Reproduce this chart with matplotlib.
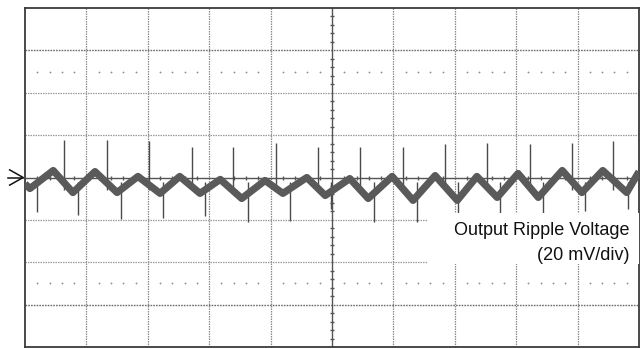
import matplotlib
matplotlib.use("Agg")
import matplotlib.pyplot as plt
from matplotlib.patches import Rectangle

# ---- data (time in divisions, voltage in mV; 20 mV/div) ----
trace_start_t = [0.0]
trace_start_v = [-3.0]
peak_t = [0.46, 1.14, 1.84, 2.52, 3.18, 3.91, 4.59, 5.29, 5.98, 6.68, 7.36, 8.03, 8.75, 9.41]
peak_v = [3.3, 2.8, 0.5, 0.5, -0.9, -1.4, 0.0, -0.5, 0.5, 0.9, 0.5, 1.9, 3.3, 3.3]
trough_t = [0.08, 0.78, 1.50, 2.20, 2.85, 3.53, 4.20, 4.89, 5.59, 6.32, 7.04, 7.69, 8.36, 9.07, 9.80]
trough_v = [-5.2, -7.1, -7.1, -7.5, -7.5, -9.9, -7.5, -8.5, -9.9, -10.8, -10.8, -9.4, -9.4, -7.1, -7.1]
trace_end_t = [10.0]
trace_end_v = [2.8]

spike_up_t = [0.635, 1.336, 2.02, 2.72, 3.39, 4.09, 4.77, 5.46, 6.16, 6.84, 7.52, 8.22, 8.91, 9.58]
spike_up_v = [17.9, 17.9, 17.0, 14.6, 14.2, 16.5, 14.6, 14.6, 14.6, 15.6, 16.5, 15.6, 16.5, 17.0]
spike_dn_t = [0.195, 0.863, 1.56, 2.25, 2.93, 3.63, 4.32, 4.99, 5.68, 6.38, 7.05, 7.74, 8.44, 9.12, 9.82]
spike_dn_v = [-16.5, -17.5, -19.8, -18.9, -18.4, -20.8, -20.3, -15.0, -20.8, -21.2, -18.4, -17.5, -18.4, -16.0, -15.1]

label_line1 = "Output Ripple Voltage"
label_line2 = "(20 mV/div)"

N_XDIV = 10
N_YDIV = 8
MV_PER_DIV = 20

# ---- figure ----
W, H = 643, 349
fig = plt.figure(figsize=(W / 100, H / 100), dpi=100)
ax = fig.add_axes([25 / W, 2 / H, 614 / W, 339 / H])
ax.set_xlim(0, N_XDIV)
ymax = N_YDIV / 2 * MV_PER_DIV
ax.set_ylim(-ymax, ymax)
ax.set_xticks([])
ax.set_yticks([])
for s in ax.spines.values():
    s.set_color("#3a3a3a")
    s.set_linewidth(1.3)

for i in range(1, N_XDIV):
    if i != N_XDIV // 2:
        ax.axvline(i, color="#8a8a8a", lw=0.9, ls=(0, (1.2, 0.8)), zorder=1)
for j in range(1, N_YDIV):
    yd = j - N_YDIV / 2
    if yd != 0:
        dark = abs(yd) == 3
        ax.axhline(yd * MV_PER_DIV, color="#6e6e6e" if dark else "#9a9a9a",
                   lw=1.0 if dark else 0.9, ls=(0, (1.2, 0.8)), zorder=1)

# centre axes with minor ticks
ax.axhline(0, color="#555555", lw=1.0, zorder=2)
ax.axvline(N_XDIV / 2, color="#555555", lw=1.0, zorder=2)
ticks_x = [k * 0.2 for k in range(1, N_XDIV * 5) if k % 5 != 0]
ticks_y = [(k * 0.2 - N_YDIV / 2) * MV_PER_DIV for k in range(1, N_YDIV * 5) if k % 5 != 0]
ax.plot(ticks_x, [0] * len(ticks_x), ls="none", marker="|", ms=3.5, mew=1.0, color="#555555", zorder=2)
ax.plot([N_XDIV / 2] * len(ticks_y), ticks_y, ls="none", marker="_", ms=3.5, mew=1.0, color="#555555", zorder=2)

# reference dot rows
for yd in (2.5, -2.5):
    ax.plot(ticks_x, [yd * MV_PER_DIV] * len(ticks_x), ls="none", marker="o", ms=1.3,
            mec="none", mfc="#8a8a8a", zorder=1)

# ---- trace ----
pts = sorted(zip(trace_start_t + peak_t + trough_t + trace_end_t,
                 trace_start_v + peak_v + trough_v + trace_end_v))
tt = [p[0] for p in pts]
vv = [p[1] for p in pts]
ax.vlines(spike_up_t, -6, spike_up_v, color="#4a4a4a", lw=1.0, zorder=3)
ax.vlines(spike_dn_t, -2, spike_dn_v, color="#4a4a4a", lw=1.0, zorder=3)
ax.plot(tt, vv, color="#5a5a5a", lw=5.2, solid_joinstyle="round", solid_capstyle="butt", zorder=4)

# label box (white, hides grid)
ax.add_patch(Rectangle((6.56, -41.0), 3.44, 24.3, facecolor="white", edgecolor="none", zorder=5))
ax.text(9.84, -25.0, label_line1, ha="right", va="center", fontsize=13,
        family="Liberation Sans", color="#111111", zorder=6)
ax.text(9.84, -36.8, label_line2, ha="right", va="center", fontsize=13,
        family="Liberation Sans", color="#111111", zorder=6)

# ground-level arrow marker at the left
ax.plot([-0.27, -0.03], [0, 0], color="#111111", lw=1.1, clip_on=False)
ax.plot([-0.25, -0.03, -0.25], [3.6, 0, -3.6], color="#111111", lw=1.1, clip_on=False)

fig.savefig("out.png", dpi=100)
